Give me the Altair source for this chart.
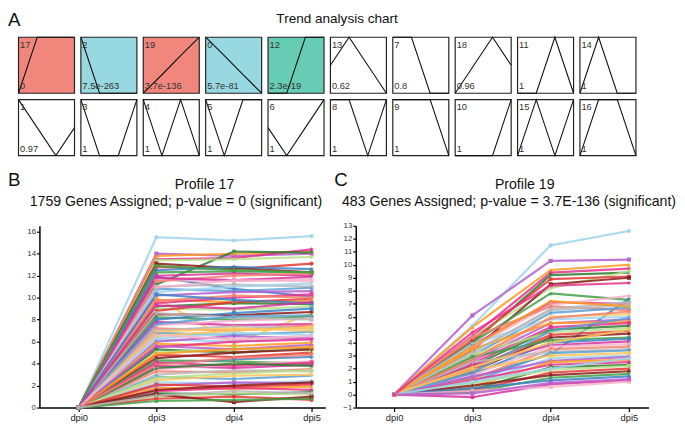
import json
import altair as alt
import pandas as pd

# ---------------- data ----------------
time_labels = ["dpi0", "dpi3", "dpi4", "dpi5"]

# Panel A: STEM model profiles, in display order (2 rows x 10)
profile_ids = [17, 2, 19, 0, 12, 13, 7, 18, 11, 14,
               1, 3, 4, 5, 6, 8, 9, 10, 15, 16]
profile_pvalues = ["0", "7.5e-263", "3.7e-136", "5.7e-81", "2.3e-19", "0.62", "0.8", "0.96", "1", "1",
                   "0.97", "1", "1", "1", "1", "1", "1", "1", "1", "1"]
profile_group = ["red", "cyan", "red", "cyan", "teal", "none", "none", "none", "none", "none",
                 "none", "none", "none", "none", "none", "none", "none", "none", "none", "none"]
profile_shapes = [
    [0, 1, 1, 1], [1, 0, 0, 0], [0, 0.33, 0.67, 1], [1, 0.67, 0.33, 0], [0, 0, 1, 1],
    [0.5, 1, 0.5, 0], [1, 1, 0, 0], [0, 0.5, 1, 0.5], [0, 0, 1, 0], [0, 1, 0, 0],
    [1, 0.5, 0, 0.5], [1, 0, 0, 1], [1, 0, 1, 0], [1, 0, 1, 1], [0.5, 0, 0.5, 1],
    [1, 1, 0, 1], [1, 1, 1, 0], [0, 0, 0, 1], [0, 1, 0, 1], [0, 1, 1, 0],
]
group_names = ["red", "cyan", "teal", "none"]
group_colors = ["#F0867C", "#98D8E0", "#66CCB4", "#FFFFFF"]

# Panel B: Profile 17 genes (dpi0 = 0 for all)
b_dpi3 = [15.5, 14.0, 13.8, 13.5, 11.2, 13.4, 12.8, 13.1, 12.3, 11.9, 12.0, 11.6, 11.5, 11.0, 10.8,
          10.0, 10.5, 10.2, 9.8, 9.5, 9.2, 9.0, 8.8, 8.5, 8.2, 8.0, 7.8, 7.5, 7.2, 7.0,
          6.8, 6.5, 6.2, 6.0, 5.8, 5.5, 5.3, 5.0, 4.8, 4.5, 4.3, 4.0, 3.8, 3.5, 3.3,
          3.0, 2.8, 2.5, 2.3, 2.0, 1.8, 1.5, 1.3, 1.0, 0.8, 1.2, 0.6, 12.5, 11.8, 10.9,
          9.7, 8.6, 7.6, 6.9, 6.3, 5.6, 4.9, 4.1, 3.6, 2.7, 2.1, 1.6, 12.9, 10.3, 9.3,
          6.6, 3.9, 1.1]
b_dpi4 = [15.2, 13.8, 14.0, 13.6, 14.2, 13.5, 12.6, 12.7, 12.4, 10.8, 12.2, 11.5, 12.0, 11.2, 10.6,
          5.8, 11.0, 10.5, 9.6, 10.0, 9.5, 8.9, 9.6, 8.4, 8.0, 8.6, 7.5, 7.9, 7.0, 7.4,
          6.6, 7.0, 6.0, 6.5, 5.6, 6.0, 5.0, 5.4, 4.6, 5.0, 4.2, 4.4, 3.6, 3.9, 3.2,
          3.4, 2.6, 2.9, 2.2, 2.3, 1.7, 1.8, 1.2, 1.3, 1.0, 0.5, 0.7, 12.8, 11.6, 11.6,
          10.2, 8.2, 8.3, 7.2, 6.8, 5.3, 5.3, 3.8, 4.0, 3.1, 1.9, 2.0, 12.5, 9.8, 9.0,
          6.2, 4.5, 1.5]
b_dpi5 = [15.6, 14.0, 14.2, 14.4, 14.1, 13.7, 13.1, 12.3, 12.3, 10.1, 12.0, 11.7, 12.2, 11.0, 10.9,
          8.6, 11.3, 10.6, 9.7, 10.3, 9.4, 9.2, 9.9, 8.7, 8.3, 9.0, 7.6, 8.1, 7.5, 7.2,
          6.9, 7.3, 6.4, 6.3, 5.9, 6.2, 5.4, 5.2, 5.0, 5.3, 4.0, 4.6, 3.9, 4.2, 3.5,
          3.3, 2.9, 3.0, 2.4, 2.2, 1.9, 1.6, 1.4, 1.2, 0.7, 1.0, 0.8, 12.6, 11.9, 11.5,
          10.0, 8.0, 8.4, 7.0, 6.6, 5.7, 5.5, 4.1, 3.8, 3.4, 2.1, 2.3, 12.3, 9.5, 9.6,
          6.5, 4.8, 1.3]
b_yticks = [0, 2, 4, 6, 8, 10, 12, 14, 16]

# Panel C: Profile 19 genes (dpi0 = 0 for all)
c_dpi3 = [5.3, 6.1, 5.2, 4.5, 4.0, 4.4, 4.2, 3.4, 4.0, 1.3, 3.8, 3.6, 4.4, 3.3, 3.0,
          2.8, 3.9, 2.6, 3.5, 2.4, 2.2, 3.1, 2.0, 1.8, 2.9, 1.6, 2.3, 1.5, 1.2, 2.5,
          1.0, 1.9, 0.8, 1.4, 0.6, 1.1, 0.4, 0.9, 0.3, 0.7, 0.2, 0.5, -0.2, 0.3, 2.7,
          3.2, 1.7, 2.1, 1.0, 0.1, 3.7, 4.8]
c_dpi4 = [11.5, 10.3, 9.6, 9.4, 9.2, 8.2, 8.9, 8.5, 7.8, 3.1, 7.1, 6.9, 6.8, 6.5, 6.3,
          6.0, 5.8, 5.5, 5.5, 5.2, 5.0, 4.8, 4.6, 4.4, 4.2, 4.0, 3.8, 3.7, 3.5, 3.3,
          3.2, 3.0, 2.8, 2.6, 2.5, 2.3, 2.1, 1.9, 1.7, 1.5, 1.3, 1.1, 0.8, 0.6, 5.9,
          6.6, 4.9, 4.0, 2.0, 0.9, 7.2, 8.4]
c_dpi5 = [12.6, 10.4, 10.0, 9.7, 9.4, 9.5, 9.1, 9.0, 7.3, 7.4, 7.0, 7.6, 6.5, 6.9, 6.7,
          6.2, 6.0, 5.8, 5.6, 5.5, 5.3, 5.1, 4.9, 4.7, 4.4, 4.3, 4.1, 3.9, 3.7, 3.5,
          3.4, 3.2, 3.0, 2.9, 2.7, 2.5, 2.3, 2.2, 2.0, 1.8, 1.6, 1.4, 1.1, 1.0, 6.4,
          7.1, 5.9, 5.0, 2.8, 1.2, 6.8, 8.6]
c_yticks = [-1, 0, 1, 2, 3, 4, 5, 6, 7, 8, 9, 10, 11, 12, 13]

gene_palette = ["#9fd3ea", "#b65fcf", "#ff9a1f", "#e8338c", "#2f7d32", "#b6e08a", "#e53935",
                "#8b1c1c", "#43a047", "#3d84c6", "#d6339e", "#f6b3cb", "#f58070", "#b8b8b8",
                "#5a9fd4", "#fdc65a"]
marker_shapes = ["circle", "square", "triangle-up", "diamond", "triangle-down", "cross"]

FONT = "Liberation Sans"

# ---------------- panel A ----------------
rows = []
for i, pid in enumerate(profile_ids):
    for t in range(4):
        rows.append({"pid": str(pid), "col": i % 10, "row": i // 10, "t": t,
                     "v": profile_shapes[i][t], "pval": profile_pvalues[i],
                     "grp": profile_group[i]})
df_top = pd.DataFrame(rows)

STEP = 63.5            # box pitch in px
CW = 57 / STEP         # box size in units of the box pitch
X0 = 21.3 / STEP       # grid starts left of the shared column origin
top_w = (9 + CW - X0) * STEP
xsc = alt.Scale(domain=[X0, 9 + CW], nice=False, zero=False)
ysc = alt.Scale(domain=[0, 1 + CW], nice=False, zero=False)

base = alt.Chart(df_top).transform_calculate(
    xp=f"datum.col + datum.t / 3 * {CW}",
    yp=f"1 - datum.row + datum.v * {CW}",
    x1=f"datum.col + {CW}",
    yb="1 - datum.row",
    yt=f"1 - datum.row + {CW}",
)

boxes = base.transform_filter("datum.t == 0").mark_rect(stroke="#222", strokeWidth=1.2).encode(
    x=alt.X("col:Q", scale=xsc, axis=None),
    x2="x1:Q",
    y=alt.Y("yb:Q", scale=ysc, axis=None),
    y2="yt:Q",
    fill=alt.Fill("grp:N", scale=alt.Scale(domain=group_names, range=group_colors), legend=None),
)
plines = base.mark_line(color="#111", strokeWidth=1.1).encode(
    x=alt.X("xp:Q", scale=xsc, axis=None),
    y=alt.Y("yp:Q", scale=ysc, axis=None),
    detail="pid:N",
    order="t:Q",
)
id_text = base.transform_filter("datum.t == 0").mark_text(
    align="left", baseline="top", dx=1.5, dy=3, fontSize=9.5, color="#333", font=FONT
).encode(x=alt.X("col:Q", scale=xsc, axis=None), y=alt.Y("yt:Q", scale=ysc, axis=None), text="pid:N")
p_text = base.transform_filter("datum.t == 0").mark_text(
    align="left", baseline="bottom", dx=1.5, dy=-2, fontSize=9.5, color="#333", font=FONT
).encode(x=alt.X("col:Q", scale=xsc, axis=None), y=alt.Y("yb:Q", scale=ysc, axis=None), text="pval:N")

lab_a = alt.Chart(pd.DataFrame({"s": ["A"]})).mark_text(
    align="left", baseline="top", fontSize=19, color="#111", font=FONT
).encode(x=alt.value(-32), y=alt.value(-26), text="s:N")
ttl_a = alt.Chart(pd.DataFrame({"s": ["Trend analysis chart"]})).mark_text(
    align="center", baseline="middle", fontSize=13.8, color="#111", font=FONT
).encode(x=alt.value(303), y=alt.value(-18), text="s:N")

top = alt.layer(boxes, plines, id_text, p_text, lab_a, ttl_a).properties(width=top_w, height=120.5)


# ---------------- panels B / C ----------------
def long_df(d3, d4, d5):
    out = []
    for i in range(len(d3)):
        for t, v in enumerate([0, d3[i], d4[i], d5[i]]):
            out.append({"gene": f"g{i:03d}", "t": t, "v": v})
    return pd.DataFrame(out)


label_expr = json.dumps(time_labels) + "[datum.value]"


def gene_chart(df, xdom, ydom, yticks, w, h, panel, title, subtitle, pos):
    x = alt.X("t:Q", scale=alt.Scale(domain=xdom, nice=False, zero=False),
              axis=alt.Axis(values=[0, 1, 2, 3], labelExpr=label_expr, title=None, grid=False,
                            domainColor="#000", domainWidth=1.5, tickColor="#000", tickWidth=1.2,
                            tickSize=4, labelFontSize=9.5, labelColor="#222", labelPadding=1,
                            labelFont=FONT, labelOverlap=False))
    y = alt.Y("v:Q", scale=alt.Scale(domain=ydom, nice=False, zero=False),
              axis=alt.Axis(values=yticks, title=None, grid=False, domainColor="#000",
                            domainWidth=1.5, tickColor="#000", tickWidth=1.2, tickSize=3,
                            labelOverlap=False, labelFontSize=8, labelColor="#333",
                            labelPadding=1, labelFont=FONT))
    color = alt.Color("gene:N", scale=alt.Scale(range=gene_palette), legend=None)
    shape = alt.Shape("gene:N", scale=alt.Scale(range=marker_shapes), legend=None)
    g = alt.Chart(df)
    lines = g.mark_line(strokeWidth=2.2, opacity=0.85).encode(x=x, y=y, color=color, detail="gene:N", order="t:Q")
    pts = g.mark_point(filled=True, size=18, opacity=0.9).encode(x=x, y=y, color=color, shape=shape)
    t_panel = alt.Chart(pd.DataFrame({"s": [panel]})).mark_text(
        align="left", baseline="top", fontSize=19, color="#111", font=FONT
    ).encode(x=alt.value(pos["px"]), y=alt.value(pos["py"]), text="s:N")
    t_title = alt.Chart(pd.DataFrame({"s": [title]})).mark_text(
        align="center", baseline="middle", fontSize=14.4, color="#111", font=FONT
    ).encode(x=alt.value(pos["tx"]), y=alt.value(pos["ty"]), text="s:N")
    t_sub = alt.Chart(pd.DataFrame({"s": [subtitle]})).mark_text(
        align="center", baseline="middle", fontSize=14.4, color="#111", font=FONT
    ).encode(x=alt.value(pos["sx"]), y=alt.value(pos["sy"]), text="s:N")
    return alt.layer(lines, pts, t_panel, t_title, t_sub).properties(width=w, height=h)


chart_b = gene_chart(long_df(b_dpi3, b_dpi4, b_dpi5), [-0.506, 3.177], [0, 16.536], b_yticks, 291, 185,
                     "B", "Profile 17", "1759 Genes Assigned; p-value = 0 (significant)",
                     {"px": -32, "py": -56, "tx": 168, "ty": -42, "sx": 139, "sy": -24})
chart_c = gene_chart(long_df(c_dpi3, c_dpi4, c_dpi5), [-0.49, 3.25], [-1, 13], c_yticks, 298, 185,
                     "C", "Profile 19", "483 Genes Assigned; p-value = 3.7E-136 (significant)",
                     {"px": -22, "py": -56, "tx": 172, "ty": -42, "sx": 156, "sy": -24})

bottom = alt.hconcat(chart_b, chart_c, spacing=9)

chart = alt.vconcat(top, bottom, spacing=13).properties(padding=0).configure(
    font=FONT, background="white"
).configure_view(stroke=None)

chart.save("out.html", embed_options={"renderer": "svg", "actions": False})
